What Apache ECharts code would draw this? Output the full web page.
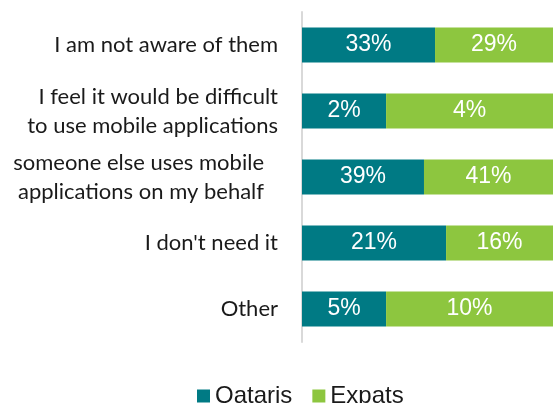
<!DOCTYPE html>
<html><head><meta charset="utf-8">
<script src="https://cdn.jsdelivr.net/npm/echarts@6/dist/echarts.min.js"></script>
<style>html,body{margin:0;padding:0;background:#fff}#c{width:553px;height:403px}</style>
</head><body><div id="c"></div>
<script>
var categories = [
  "I am not aware of them",
  "I feel it would be difficult\nto use mobile applications",
  "someone else uses mobile\napplications on my behalf",
  "I don't need it",
  "Other"
];
var seriesNames = ["Qataris", "Expats"];
// printed percentages
var qatarisPct = [33, 2, 39, 21, 5];
var expatsPct = [29, 4, 41, 16, 10];
// drawn segment lengths as seen in the picture (share of the visible axis)
var qatarisBar = [53, 33.5, 48.6, 57.4, 33.5];
var expatsBar = [47, 66.5, 51.4, 42.6, 66.5];

var chart = echarts.init(document.getElementById('c'));
function lab(pcts){
  return {show:true, position:'inside', color:'#fff', fontFamily:'Liberation Sans, Arial', fontSize:23,
    formatter:function(p){return pcts[p.dataIndex] + '%';}};
}
chart.setOption({
  animation:false,
  grid:{left:302, right:0, top:12, height:330},
  legend:{top:379, left:192, icon:'rect', itemWidth:13, itemHeight:13, itemGap:20,
    textStyle:{fontFamily:'Liberation Sans, Arial', fontSize:24, color:'#1a1a1a'},
    data:seriesNames},
  xAxis:{type:'value', min:0, max:100, show:false},
  yAxis:{type:'category', inverse:true, data:categories,
    axisLine:{show:true, lineStyle:{color:'#d9d9d9', width:2}},
    axisTick:{show:false},
    axisLabel:{margin:24, align:'right', fontFamily:'Lato', fontSize:22, color:'#1a1a1a', lineHeight:29,
      formatter:function(v,i){ return i===2 ? '{p|'+v.split('\n').join('}\n{p|')+'}' : v; },
      rich:{p:{fontFamily:'Lato', fontSize:22, color:'#1a1a1a', lineHeight:29, padding:[0,14,0,0]}}}
  },
  series:[
    {name:seriesNames[0], type:'bar', stack:'a', barWidth:35, data:qatarisBar,
     itemStyle:{color:'#007a84'}, label:lab(qatarisPct)},
    {name:seriesNames[1], type:'bar', stack:'a', barWidth:35, data:expatsBar,
     itemStyle:{color:'#8dc63f'}, label:lab(expatsPct)}
  ]
});
</script></body></html>
